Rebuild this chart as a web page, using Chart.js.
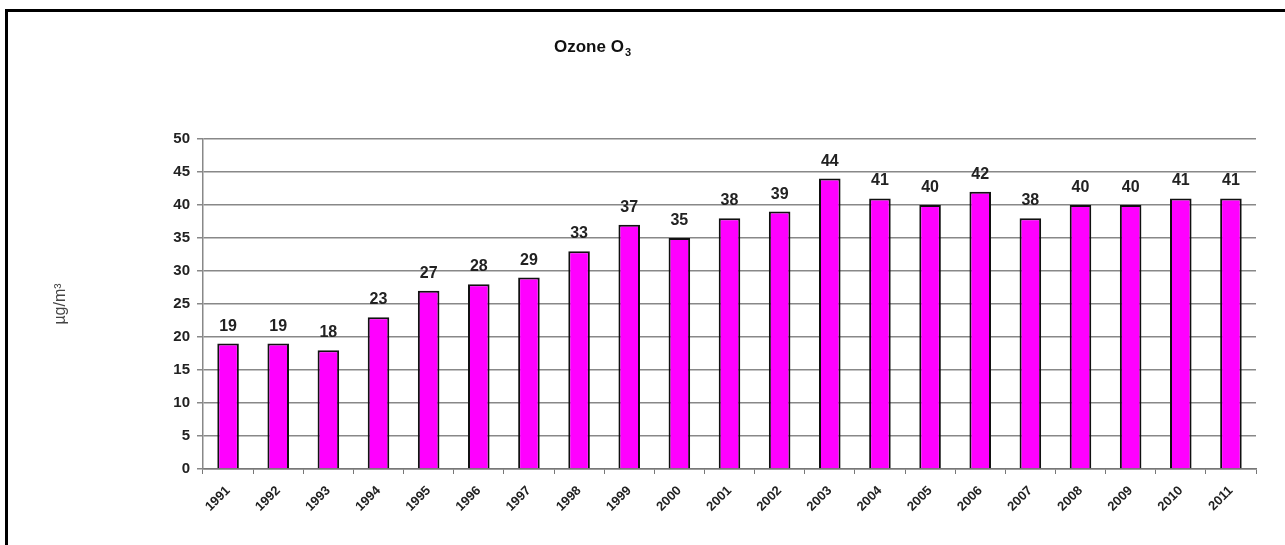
<!DOCTYPE html>
<html>
<head>
<meta charset="utf-8">
<script src="https://cdn.jsdelivr.net/npm/chart.js@4"></script>
<style>
  html, body { margin: 0; padding: 0; background: #fff; overflow: hidden; }
  #wrap { position: relative; width: 1285px; height: 545px; }
  #frame {
    position: absolute; left: 5px; top: 9px; right: -10px; bottom: -10px;
    border: 3px solid #000; pointer-events: none;
  }
</style>
</head>
<body>
<div id="wrap">
  <canvas id="chart"></canvas>
  <div id="frame"></div>
</div>
<script>
const years = ["1991", "1992", "1993", "1994", "1995", "1996", "1997", "1998", "1999", "2000",
  "2001", "2002", "2003", "2004", "2005", "2006", "2007", "2008", "2009", "2010", "2011"];
const ozone = [19, 19, 18, 23, 27, 28, 29, 33, 37, 35, 38, 39, 44, 41, 40, 42, 38, 40, 40, 41, 41];
const yTicks = [0, 5, 10, 15, 20, 25, 30, 35, 40, 45, 50];

// value labels above bars
const barLabels = {
  id: "barLabels",
  afterDatasetsDraw(chart) {
    const ctx = chart.ctx;
    const meta = chart.getDatasetMeta(0);
    ctx.save();
    ctx.font = "bold 16px 'Liberation Sans', Arial, sans-serif";
    ctx.fillStyle = "#222";
    ctx.textAlign = "center";
    ctx.textBaseline = "alphabetic";
    meta.data.forEach((bar, i) => {
      ctx.fillText(String(ozone[i]), bar.x, bar.y - 13);
    });
    ctx.restore();
  },
};

// chart title with subscript
const ozoneTitle = {
  id: "ozoneTitle",
  afterDraw(chart) {
    const ctx = chart.ctx;
    ctx.save();
    ctx.fillStyle = "#111";
    ctx.textBaseline = "alphabetic";
    const main = "Ozone O";
    ctx.font = "bold 17px 'Liberation Sans', Arial, sans-serif";
    const w1 = ctx.measureText(main).width;
    ctx.font = "bold 11px 'Liberation Sans', Arial, sans-serif";
    const w2 = ctx.measureText("3").width;
    const x0 = 592 - (w1 + w2) / 2;
    ctx.font = "bold 17px 'Liberation Sans', Arial, sans-serif";
    ctx.fillText(main, x0, 52);
    ctx.font = "bold 11px 'Liberation Sans', Arial, sans-serif";
    ctx.fillText("3", x0 + w1 + 1, 56);
    ctx.restore();
  },
};

const ctx = document.getElementById("chart");
new Chart(ctx, {
  type: "bar",
  data: {
    labels: years,
    datasets: [{
      data: ozone,
      backgroundColor: "#FF00FF",
      borderColor: "#111",
      borderWidth: 2,
      barPercentage: 0.43,
      categoryPercentage: 1,
    }],
  },
  options: {
    responsive: true,
    maintainAspectRatio: false,
    animation: false,
    layout: { padding: { top: 139, left: 44, right: 29, bottom: 0 } },
    plugins: {
      legend: { display: false },
      title: { display: false },
      tooltip: { enabled: false },
    },
    scales: {
      x: {
        afterFit(scale) { scale.height = 76; },
        grid: {
          display: true,
          drawOnChartArea: false,
          drawTicks: true,
          tickLength: 5,
          color: "#777",
          offset: true,
        },
        border: { color: "#777", width: 1.5 },
        ticks: {
          autoSkip: false,
          minRotation: 45,
          maxRotation: 45,
          padding: 9,
          color: "#222",
          font: { family: "'Liberation Sans', Arial, sans-serif", size: 13, weight: "bold" },
        },
      },
      y: {
        min: 0,
        max: 50,
        afterFit(scale) { scale.width = 159; },
        afterBuildTicks(scale) { scale.ticks = yTicks.map(v => ({ value: v })); },
        grid: { color: "#888", lineWidth: 1.5, tickLength: 6 },
        border: { color: "#888", width: 1.5 },
        ticks: {
          padding: 7,
          color: "#222",
          font: { family: "'Liberation Sans', Arial, sans-serif", size: 15, weight: "bold" },
        },
        title: {
          display: true,
          text: "µg/m³",
          color: "#444",
          padding: { top: 7, bottom: 0 },
          font: { family: "'Liberation Sans', Arial, sans-serif", size: 16 },
        },
      },
    },
  },
  plugins: [barLabels, ozoneTitle],
});
</script>
</body>
</html>
